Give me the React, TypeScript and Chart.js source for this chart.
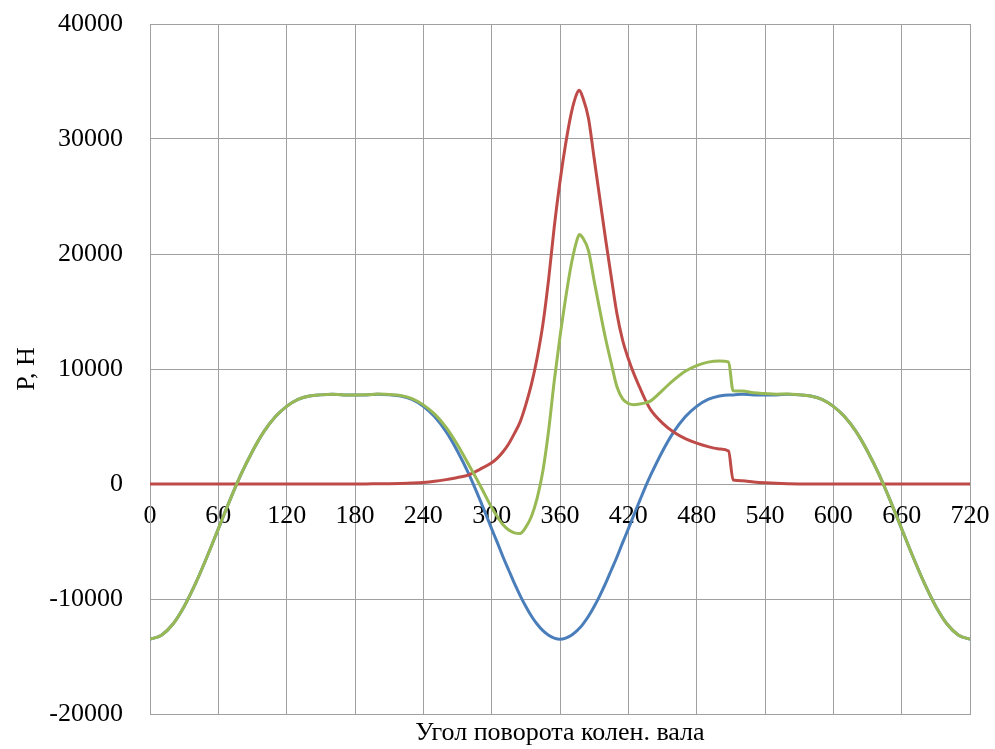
import React, { useEffect, useRef } from "react";
import { Chart, registerables } from "chart.js";

Chart.register(...registerables);

// Crank angle, degrees
const angles = [
  0, 10, 20, 30, 40, 50, 60, 70, 80, 90,
  100, 110, 120, 130, 140, 150, 160, 170, 180, 190,
  200, 210, 220, 230, 240, 250, 260, 270, 280, 290,
  300, 305, 310, 315, 320, 325, 330, 335, 340, 345,
  350, 355, 360, 365, 370, 375, 377, 380, 385, 390, 395,
  400, 405, 410, 415, 420, 425, 430, 435, 440,
  450, 460, 470, 480, 490, 500, 508, 512,
  520, 530, 540, 550, 560, 570, 580, 590, 600, 610,
  620, 630, 640, 650, 660, 670, 680, 690, 700, 710, 720,
];

// Blue series
const inertiaForce = [
  -13500, -13150, -12200, -10650, -8650, -6350, -3900, -1450, 850, 2850,
  4550, 5850, 6750, 7350, 7650, 7750, 7800, 7750, 7750, 7750,
  7800, 7750, 7650, 7350, 6750, 5850, 4550, 2850, 850, -1450,
  -3900, -5100, -6350, -7500, -8650, -9700, -10650, -11500, -12200, -12750,
  -13150, -13400, -13500, -13400, -13150, -12750, -12550, -12200, -11500, -10650, -9700,
  -8650, -7500, -6350, -5100, -3900, -2650, -1450, -250, 850,
  2850, 4550, 5850, 6750, 7350, 7650, 7750, 7750,
  7800, 7750, 7750, 7750, 7800, 7750, 7650, 7350, 6750, 5850,
  4550, 2850, 850, -1450, -3900, -6350, -8650, -10650, -12200, -13150, -13500,
];

// Red series
const gasForce = [
  0, 0, 0, 0, 0, 0, 0, 0, 0, 0,
  0, 0, 0, 0, 0, 0, 0, 0, 0, 10,
  20, 30, 50, 80, 130, 230, 380, 560, 800, 1300,
  1850, 2250, 2800, 3500, 4400, 5400, 6900, 8700, 11000, 13900,
  17800, 22400, 26300, 29600, 32300, 34000, 34250, 33600, 31800, 28300, 24800,
  21300, 18000, 14800, 12500, 10900, 9550, 8400, 7300, 6400,
  5300, 4500, 3950, 3550, 3250, 3050, 2870, 350,
  280, 180, 110, 60, 30, 10, 0, 0, 0, 0,
  0, 0, 0, 0, 0, 0, 0, 0, 0, 0, 0,
];

// Green series
const totalForce = [
  -13500, -13150, -12200, -10650, -8650, -6350, -3900, -1450, 850, 2850,
  4550, 5850, 6750, 7350, 7650, 7750, 7800, 7750, 7750, 7760,
  7820, 7780, 7700, 7430, 6880, 6080, 4930, 3410, 1650, -150,
  -2050, -2850, -3550, -4000, -4250, -4300, -3750, -2800, -1200, 1150,
  4650, 9000, 12800, 16200, 19150, 21250, 21700, 21400, 20300, 17650, 15100,
  12650, 10500, 8450, 7400, 7000, 6900, 6950, 7050, 7250,
  8150, 9050, 9800, 10300, 10600, 10700, 10620, 8100,
  8080, 7930, 7860, 7810, 7830, 7760, 7650, 7350, 6750, 5850,
  4550, 2850, 850, -1450, -3900, -6350, -8650, -10650, -12200, -13150, -13500,
];

const xTickValues = [0, 60, 120, 180, 240, 300, 360, 420, 480, 540, 600, 660, 720];
const yTickValues = [-20000, -10000, 0, 10000, 20000, 30000, 40000];

const xTitle = "Угол поворота колен. вала";
const yTitle = "P, H";

const FONT = "'Liberation Serif', 'Times New Roman', serif";
const GRID = "#a0a0a0";

function toPoints(values: number[]) {
  return angles.map((a, i) => ({ x: a, y: values[i] }));
}

const zeroPad = (s: any) => {
  s.paddingLeft = 0;
  s.paddingRight = 0;
  s.paddingTop = 0;
  s.paddingBottom = 0;
};

export default function App() {
  const ref = useRef<HTMLCanvasElement | null>(null);

  useEffect(() => {
    if (!ref.current) return;
    document.body.style.margin = "0";
    const common = {
      fill: false,
      pointRadius: 0,
      pointHoverRadius: 0,
      borderWidth: 3,
      cubicInterpolationMode: "monotone" as const,
      xAxisID: "x",
      yAxisID: "y",
    };
    const chart = new Chart(ref.current, {
      type: "line",
      data: {
        datasets: [
          { ...common, label: "blue", data: toPoints(inertiaForce), borderColor: "#4a7ebb", order: 3 },
          { ...common, label: "red", data: toPoints(gasForce), borderColor: "#be4b48", order: 2 },
          { ...common, label: "green", data: toPoints(totalForce), borderColor: "#98b954", order: 1 },
        ],
      },
      options: {
        animation: false,
        responsive: false,
        devicePixelRatio: 1,
        layout: { padding: { top: 24, right: 25, left: 0, bottom: 0 } },
        plugins: { legend: { display: false }, tooltip: { enabled: false } },
        scales: {
          x: {
            type: "linear",
            position: "bottom",
            min: 0,
            max: 720,
            afterBuildTicks: (s: any) => {
              s.ticks = xTickValues.map((v) => ({ value: v }));
            },
            afterFit: (s: any) => {
              s.height = 35;
              zeroPad(s);
            },
            grid: { color: GRID, lineWidth: 1, drawTicks: false },
            border: { display: true, color: GRID, width: 1 },
            ticks: { display: false },
            title: {
              display: true,
              text: xTitle,
              color: "#000",
              font: { family: FONT, size: 26 },
              padding: { top: 0, bottom: 0 },
            },
          },
          x2: {
            type: "linear",
            position: { y: 0 } as any,
            min: 0,
            max: 720,
            afterBuildTicks: (s: any) => {
              s.ticks = xTickValues.map((v) => ({ value: v }));
            },
            afterFit: (s: any) => {
              zeroPad(s);
            },
            grid: { display: false, drawTicks: false },
            border: { display: false },
            ticks: {
              color: "#000",
              font: { family: FONT, size: 26 },
              padding: 17,
              maxRotation: 0,
              autoSkip: false,
              callback: (v: any) => String(v),
            },
          },
          y: {
            type: "linear",
            position: "left",
            min: -20000,
            max: 40000,
            afterBuildTicks: (s: any) => {
              s.ticks = yTickValues.map((v) => ({ value: v }));
            },
            afterFit: (s: any) => {
              s.width = 150;
              zeroPad(s);
            },
            grid: { color: GRID, lineWidth: 1, drawTicks: false },
            border: { display: true, color: GRID, width: 1 },
            ticks: {
              color: "#000",
              font: { family: FONT, size: 26 },
              padding: 27,
              callback: (v: any) => String(v),
            },
            title: {
              display: true,
              text: yTitle,
              color: "#000",
              font: { family: FONT, size: 26 },
              padding: { top: 12, bottom: 0 },
            },
          },
        },
      },
    });
    return () => chart.destroy();
  }, []);

  return (
    <div style={{ position: "absolute", left: 0, top: 0, width: 995, height: 749, background: "#fff" }}>
      <canvas ref={ref} width={995} height={749} style={{ display: "block", width: 995, height: 749 }} />
    </div>
  );
}
